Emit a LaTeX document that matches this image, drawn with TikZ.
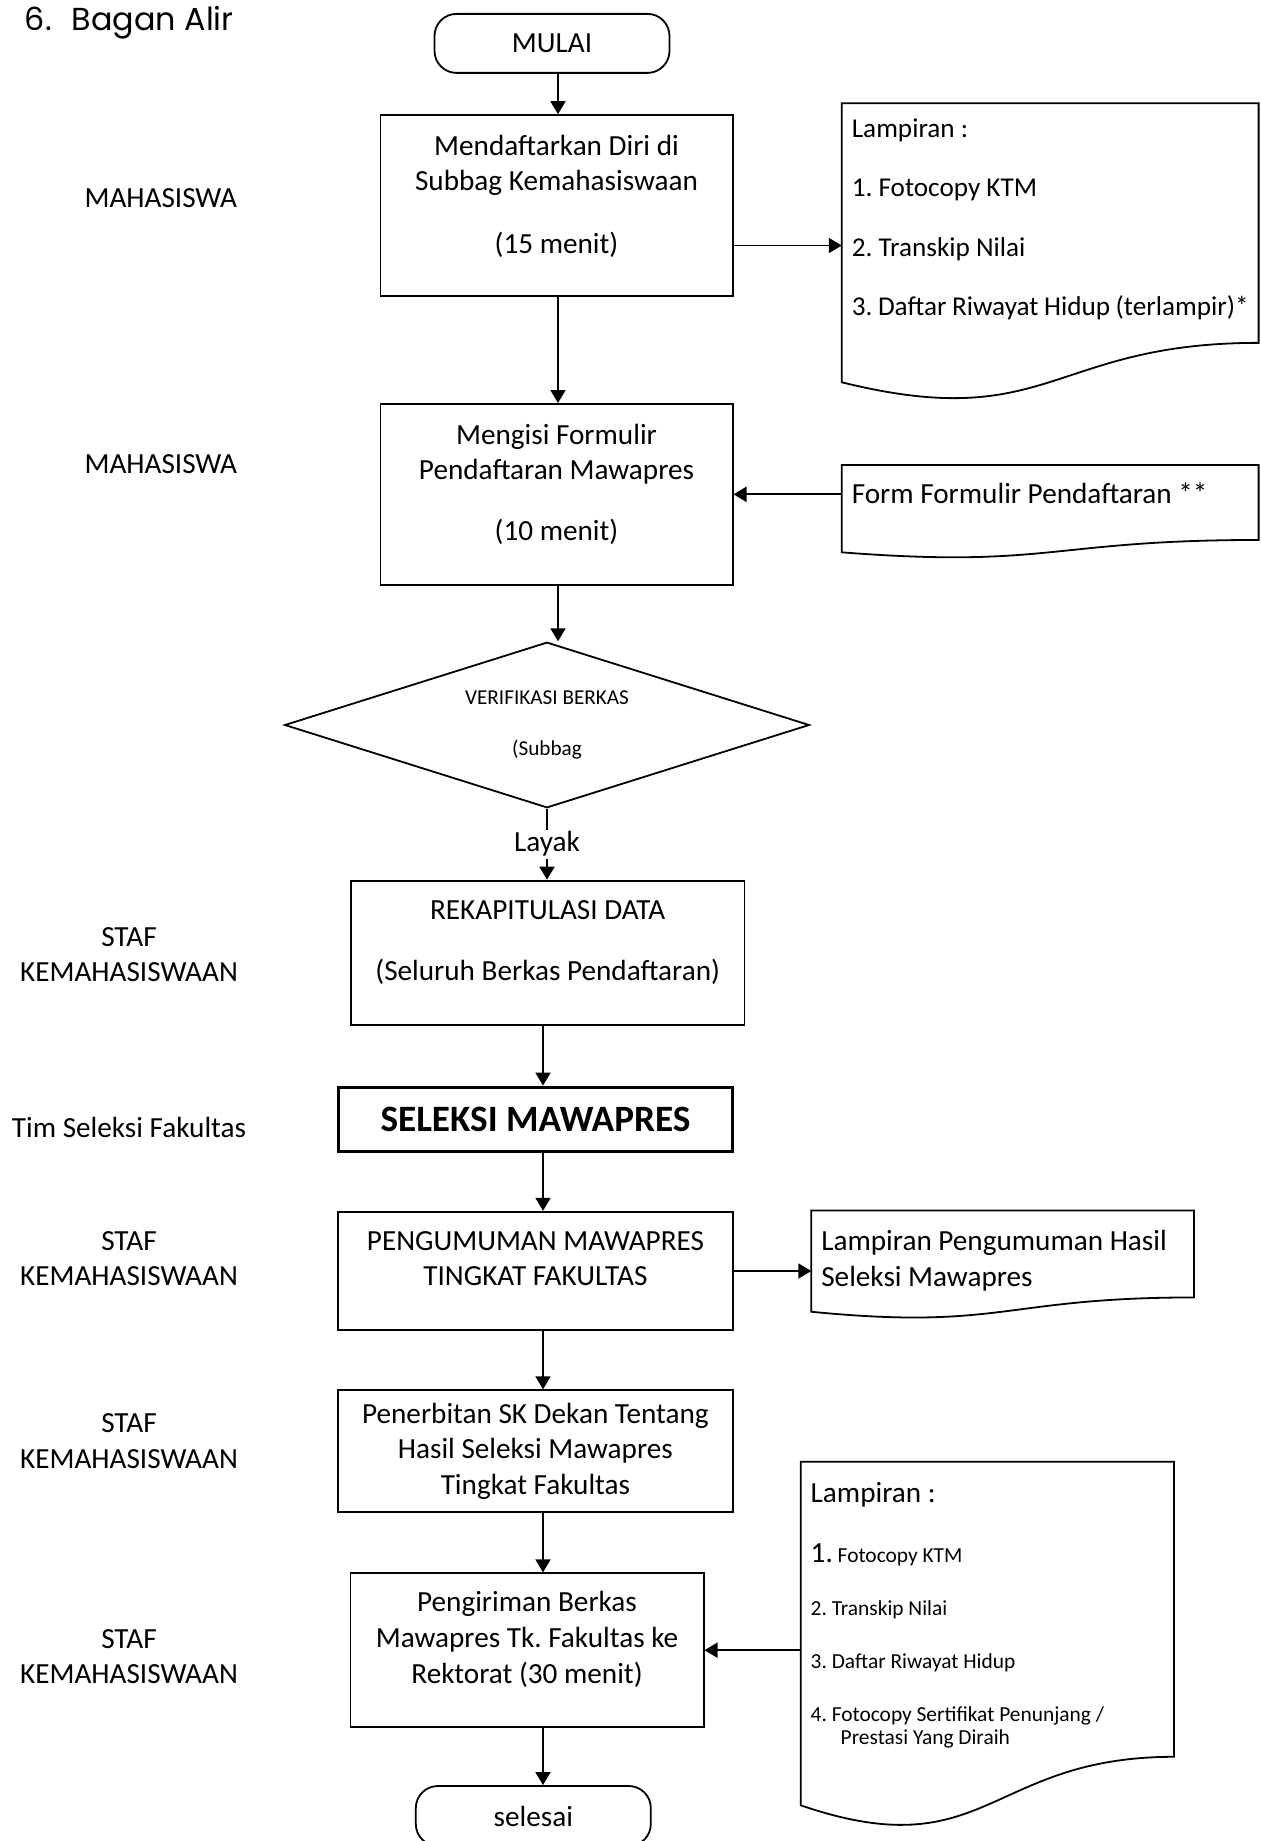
\documentclass[tikz,border=0pt]{standalone}
\usepackage{fontspec}
\setmainfont{Carlito}
\newfontfamily\titlefont{Poppins}
\usetikzlibrary{positioning,calc,arrows.meta}
\usetikzlibrary{shapes.geometric}
\frenchspacing

\newcommand{\lowpad}[1]{\rule[-#1]{0pt}{#1}}
\newcommand{\docoutline}[1]{%
	\draw (#1.north west) -- (#1.north east)
	-- ($(#1.north east)!0.802!(#1.south east)$)
	.. controls ($(#1.north)!0.802!(#1.south)$) and ($(#1.north)!1.107!(#1.south)$)
	.. ($(#1.north west)!0.934!(#1.south west)$) -- cycle;}

\begin{document}
\begin{tikzpicture}[x=0.5pt,y=-0.5pt,line width=0.9pt,
	every node/.style={font=\fontsize{14.6}{17.8}\selectfont},
	procnode/.style={draw,rectangle,align=center,inner sep=2pt},
	termnode/.style={draw,rectangle,rounded corners=11pt,minimum width=117.5pt,minimum height=29.5pt},
	docnode/.style={rectangle,inner xsep=5pt,inner ysep=2pt,outer sep=0pt,align=flush left},
	decnode/.style={draw,diamond,aspect=3.17,inner sep=0pt,minimum width=262.4pt,minimum height=82.8pt,
		font=\fontsize{10.6}{25.8}\selectfont,align=center},
	rolenode/.style={align=center},
	flow/.style={-{Triangle[width=7.5pt,length=6.5pt]}},
	]
	
	\useasboundingbox (0,0) rectangle (1261,1841);
	\fill[white] (0,0) rectangle (1261,1841);
	
	\node[anchor=base west,inner sep=0pt,font=\titlefont\fontsize{15.9}{19}\selectfont] (title) at (24,31) {6.\hspace{10pt}Bagan Alir};
	
	% start and end
	\node[termnode] (mulai) at (552,43.4) {MULAI};
	\node[termnode,minimum height=30pt] (selesai) at (533.3,1816) {selesai};
	
	% process boxes
	\node[procnode,minimum width=176.1pt,minimum height=90.4pt] (p1) at (556.5,205.5)
	{Mendaftarkan Diri di\\Subbag Kemahasiswaan\\[13.5pt](15 menit)\lowpad{11.2pt}};
	\node[procnode,minimum width=176.1pt,minimum height=90.4pt] (p2) at (556.5,494.3)
	{Mengisi Formulir\\Pendaftaran Mawapres\\[12.5pt](10 menit)\lowpad{12.3pt}};
	\node[decnode] (v) at (547,725) {VERIFIKASI BERKAS\\(Subbag};
	\node[procnode,minimum width=196.7pt,minimum height=72.2pt] (p3) at (547.7,952.8)
	{REKAPITULASI DATA\\[12.7pt](Seluruh Berkas Pendaftaran)\lowpad{12.3pt}};
	\node[procnode,line width=1.6pt,minimum width=197.2pt,minimum height=32.3pt,
	font=\fontsize{18.6}{22}\selectfont\bfseries] (p4) at (535.4,1119.5) {SELEKSI MAWAPRES};
	\node[procnode,minimum width=197.2pt,minimum height=59.3pt] (p5) at (535.4,1271)
	{PENGUMUMAN MAWAPRES\\TINGKAT FAKULTAS\lowpad{12.4pt}};
	\node[procnode,minimum width=197.2pt,minimum height=61pt] (p6) at (535.4,1451.2)
	{Penerbitan SK Dekan Tentang\\Hasil Seleksi Mawapres\\Tingkat Fakultas};
	\node[procnode,minimum width=176.6pt,minimum height=76.9pt] (p7) at (527,1650.2)
	{Pengiriman Berkas\\Mawapres Tk. Fakultas ke\\Rektorat (30 menit)\lowpad{12.9pt}};
	
	% documents
	\node[docnode,text width=198.4pt,minimum height=149.35pt,font=\fontsize{13.6}{29.6}\selectfont] (d1) at (1050.2,252.65)
	{Lampiran :\\1. Fotocopy KTM\\2. Transkip Nilai\\3. Daftar Riwayat Hidup (terlampir)*\lowpad{35.5pt}};
	\node[docnode,text width=198.4pt,minimum height=46.8pt] (d2) at (1050.2,511.7)
	{Form Formulir Pendaftaran **\lowpad{18.7pt}};
	\node[docnode,text width=181.35pt,minimum height=54.2pt] (d3) at (1002.65,1264.7)
	{Lampiran Pengumuman Hasil\\Seleksi Mawapres\lowpad{6.1pt}};
	\node[docnode,text width=176.65pt,minimum height=183.9pt,font=\fontsize{10.7}{26.5}\selectfont] (d4) at (987.35,1645.7)
	{{\fontsize{14.6}{17}\selectfont Lampiran :}\\[3.5pt]
		{\fontsize{14.6}{17}\selectfont 1.} Fotocopy KTM\\
		2. Transkip Nilai\\
		3. Daftar Riwayat Hidup\\
		4. Fotocopy Sertifikat Penunjang /\\[-14.85pt]
		\hspace*{15pt}Prestasi Yang Diraih\lowpad{32.3pt}};
	\foreach \dn in {d1,d2,d3,d4} {\docoutline{\dn}}
	
	% roles
	\node[rolenode] (m1) at (160.8,198.4) {MAHASISWA};
	\node[rolenode] (m2) at (160.8,463.8) {MAHASISWA};
	\node[rolenode] (tim) at (129,1127) {Tim Seleksi Fakultas};
	\foreach \y [count=\i] in {954.6,1258.6,1441.2,1656.7}
	\node[rolenode] (staf\i) at (129,\y) {STAF\\KEMAHASISWAAN};
	
	% flow edges
	\coordinate (topaxis) at (558,0);
	\coordinate (lowaxis) at (543,0);
	\draw[flow] (mulai.south -| topaxis) -- (p1.north -| topaxis);
	\draw[flow] (p1.south -| topaxis) -- (p2.north -| topaxis);
	\draw[flow] (p2.south -| topaxis) -- (v.north -| topaxis);
	\draw[flow] (v.south) -- node[fill=white,inner sep=1pt] (layak) {Layak} (v.south |- p3.north);
	\foreach \src/\dst in {p3/p4,p4/p5,p5/p6,p6/p7,p7/selesai}
	\draw[flow] (\src.south -| lowaxis) -- (\dst.north -| lowaxis);
	
	% document edges
	\draw[flow] ([yshift=-20pt]p1.east) -- ([yshift=-20pt]p1.east -| d1.west);
	\draw[flow] (p2.east -| d2.west) -- (p2.east);
	\draw[flow] (p5.east) -- (p5.east -| d3.west);
	\draw[flow] (p7.east -| d4.west) -- (p7.east);
	
\end{tikzpicture}
\end{document}
